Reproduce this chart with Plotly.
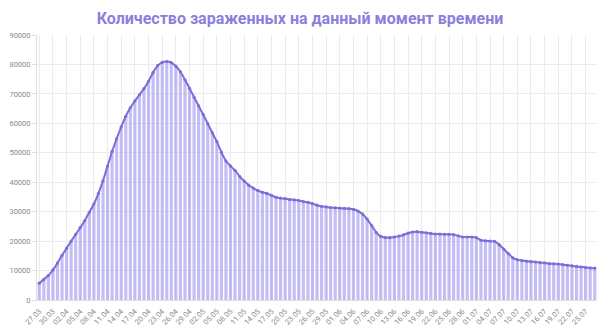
import datetime as dt
import plotly.graph_objects as go

start = dt.date(2020, 3, 27)
values_k = [
    5.7, 7.0, 8.3, 10.2, 12.6, 15.2, 17.6, 20.0, 22.3, 24.6,
    27.0, 29.8, 32.6, 36.2, 40.5, 45.5, 50.5, 54.8, 58.8, 62.4,
    65.3, 67.6, 69.7, 71.8, 74.3, 77.3, 79.6, 80.7, 81.0, 80.6,
    79.4, 77.5, 74.8, 71.9, 68.9, 65.9, 63.0, 59.9, 56.8, 53.8,
    50.2, 47.2, 45.5, 44.0, 42.0, 40.4, 39.0, 38.0, 37.2, 36.6,
    36.2, 35.5, 34.9, 34.6, 34.4, 34.1, 34.0, 33.8, 33.4, 33.2,
    32.7, 32.2, 31.8, 31.6, 31.4, 31.3, 31.2, 31.1, 31.0, 30.8,
    30.2, 29.2, 27.5, 25.3, 23.0, 21.6, 21.2, 21.2, 21.4, 21.7,
    22.1, 22.7, 23.1, 23.2, 23.0, 22.8, 22.6, 22.4, 22.4, 22.3,
    22.3, 22.2, 21.8, 21.4, 21.4, 21.4, 21.2, 20.3, 20.1, 20.0,
    19.9, 18.8, 17.3, 15.8, 14.3, 13.7, 13.4, 13.2, 13.0, 12.9,
    12.7, 12.6, 12.4, 12.3, 12.2, 12.0, 11.8, 11.6, 11.4, 11.2,
    11.0, 10.9, 10.8,
]
values = [round(v * 1000) for v in values_k]
dates = [(start + dt.timedelta(days=i)).strftime("%d.%m") for i in range(len(values))]
tick_labels = dates[::3]

title_text = "Количество зараженных на данный момент времени"

fig = go.Figure()
fig.add_trace(go.Bar(
    x=dates, y=values,
    marker=dict(color="rgba(160,150,238,0.62)", line=dict(width=0)),
    hoverinfo="skip",
))
fig.add_trace(go.Scatter(
    x=dates, y=values, mode="lines+markers",
    line=dict(color="#7a6fd6", width=2, shape="spline", smoothing=0.3),
    marker=dict(color="#7a6fd6", size=3.2),
))
fig.update_layout(
    width=600, height=329,
    margin=dict(l=37, r=3, t=35, b=29, autoexpand=False),
    paper_bgcolor="white", plot_bgcolor="white",
    showlegend=False, bargap=0.3,
    font=dict(family="Roboto, sans-serif"),
    title=dict(text="<b>" + title_text + "</b>", x=0.5, xanchor="center",
               y=0.945, yanchor="middle",
               font=dict(size=16, color="#8a80dc", family="Roboto, sans-serif")),
)
fig.update_xaxes(
    type="category", tickvals=tick_labels, ticktext=tick_labels,
    range=[-0.5, len(dates) - 0.5], automargin=False,
    tickangle=-45, tickfont=dict(size=7.5, color="#8a8a8a"),
    showgrid=True, gridcolor="#ececec", gridwidth=1,
    showline=True, linecolor="#dddddd", ticks="outside", ticklen=3, tickcolor="white",
)
fig.update_yaxes(
    range=[0, 90000], dtick=10000, tickformat="d", automargin=False,
    tickfont=dict(size=7.5, color="#8a8a8a"),
    showgrid=True, gridcolor="#ececec", gridwidth=1,
    showline=True, linecolor="#dddddd", zeroline=False,
    ticks="outside", ticklen=4, tickcolor="#dddddd",
)
fig.write_html("out.html")
